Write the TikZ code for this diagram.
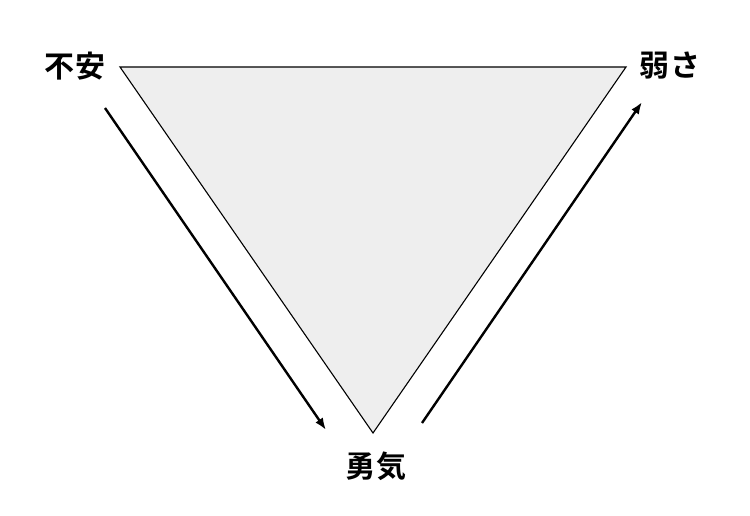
\documentclass[tikz,border=0pt]{standalone}
\usepackage{fontspec}
\newfontfamily\cjk{Noto Sans CJK JP Bold}
\usetikzlibrary{arrows.meta}
\definecolor{trifill}{HTML}{EEEEEE}
\begin{document}
\begin{tikzpicture}[x=1pt,y=-1pt,
  lbl/.style={font=\cjk\fontsize{30}{30}\selectfont, inner sep=0pt},
  flow/.style={line width=2.4pt, -{Latex[length=12pt,width=9pt]}}]
\useasboundingbox (0,0) rectangle (750,516);
\coordinate (A) at (120,67);
\coordinate (B) at (626,67);
\coordinate (C) at (373,433);
\draw[fill=trifill, line width=1.1pt, line join=miter] (A) -- (B) -- (C) -- cycle;
\node[lbl] (fuan) at (75,66) {不\kern1pt 安};
\node[lbl] (yowasa) at (670,66) {弱\kern1pt さ};
\node[lbl] (yuuki) at (376,466) {勇\kern1pt 気};
\coordinate (l1) at (105,108);
\coordinate (l2) at (326,430);
\coordinate (r1) at (422,423);
\coordinate (r2) at (642,102);
\draw[flow] (l1) -- (l2);
\draw[flow] (r1) -- (r2);
\end{tikzpicture}
\end{document}
